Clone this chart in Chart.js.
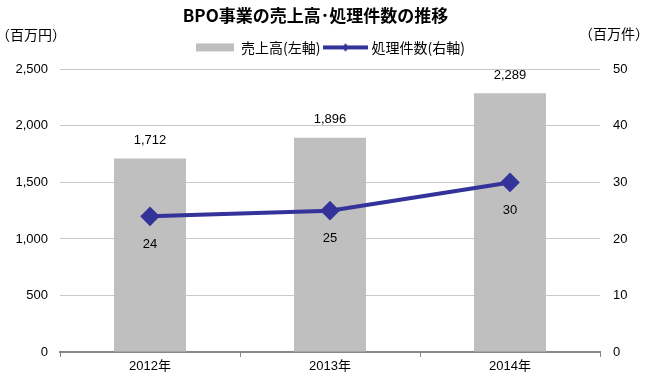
<!DOCTYPE html>
<html>
<head>
<meta charset="utf-8">
<script src="https://cdn.jsdelivr.net/npm/chart.js@4"></script>
<style>
  body { margin: 0; background: #fff; }
  #wrap { width: 645px; height: 380px; }
</style>
</head>
<body>
<div id="wrap"><canvas id="myChart" width="645" height="380"></canvas></div>
<script>
const years = ['2012年', '2013年', '2014年'];
const sales = [1712, 1896, 2289];
const counts = [24, 25, 30];
const leftTicks = [0, 500, 1000, 1500, 2000, 2500];
const rightTicks = [0, 10, 20, 30, 40, 50];

const numFont = "'Liberation Sans Narrow', 'Liberation Sans', Arial, 'Noto Sans CJK JP', sans-serif";
const jpFont = "'Noto Sans CJK JP', 'Liberation Sans', sans-serif";

// legend swatches
function barSwatch() {
    const c = document.createElement('canvas');
    c.width = 38; c.height = 10;
    const x = c.getContext('2d');
    x.fillStyle = '#bfbfbf';
    x.fillRect(0, 1, 38, 8);
    return c;
}
function lineSwatch() {
    const c = document.createElement('canvas');
    c.width = 45; c.height = 12;
    const x = c.getContext('2d');
    x.strokeStyle = '#333399';
    x.lineWidth = 4;
    x.beginPath(); x.moveTo(0, 6); x.lineTo(45, 6); x.stroke();
    x.fillStyle = '#333399';
    x.beginPath(); x.moveTo(22.5, 2); x.lineTo(26.5, 6); x.lineTo(22.5, 10); x.lineTo(18.5, 6); x.closePath(); x.fill();
    return c;
}

// shift a box's drawing sideways
function nudge(box, dx) {
    const draw = box.draw;
    box.draw = function () {
        this.ctx.save();
        this.ctx.translate(dx, 0);
        draw.apply(this, arguments);
        this.ctx.restore();
    };
}

// more room below the legend, and small horizontal nudges for title/legend
const boxTweaks = {
    id: 'boxTweaks',
    beforeLayout(chart) {
        const lg = chart.legend;
        if (lg && !lg._tweaked) {
            const fit = lg.fit;
            lg.fit = function () { fit.call(this); this.height += 5; };
            nudge(lg, 8);
            lg._tweaked = true;
        }
        const tb = chart.titleBlock;
        if (tb && !tb._tweaked) {
            nudge(tb, -7);
            tb._tweaked = true;
        }
    }
};

const valueLabels = {
    id: 'valueLabels',
    afterDatasetsDraw(chart) {
        const ctx = chart.ctx;
        ctx.save();
        ctx.fillStyle = '#000';
        ctx.font = '13px ' + numFont;
        ctx.textAlign = 'center';
        ctx.textBaseline = 'middle';
        chart.getDatasetMeta(0).data.forEach((el, i) => {
            ctx.fillText(sales[i].toLocaleString('en-US'), el.x, el.y - 18);
        });
        chart.getDatasetMeta(1).data.forEach((el, i) => {
            ctx.fillText(String(counts[i]), el.x, el.y + 28);
        });
        // unit labels
        ctx.font = '14px ' + jpFont;
        ctx.textAlign = 'left';
        ctx.fillText('（百万円）', -4, 35);
        ctx.textAlign = 'right';
        ctx.fillText('（百万件）', 649, 34);
        ctx.restore();
    }
};

new Chart(document.getElementById('myChart'), {
    data: {
        labels: years,
        datasets: [{
            type: 'bar',
            label: '売上高(左軸)',
            data: sales,
            backgroundColor: '#bfbfbf',
            yAxisID: 'y',
            categoryPercentage: 1,
            barPercentage: 0.4,
            order: 2
        }, {
            type: 'line',
            label: '処理件数(右軸)',
            data: counts,
            borderColor: '#333399',
            backgroundColor: '#333399',
            borderWidth: 4,
            pointStyle: 'rectRot',
            pointRadius: 7,
            pointHoverRadius: 7,
            yAxisID: 'y1',
            order: 1
        }]
    },
    plugins: [boxTweaks, valueLabels],
    options: {
        responsive: false,
        animation: false,
        layout: { padding: { top: 5, right: 0, left: 0, bottom: 0 } },
        plugins: {
            title: {
                display: true,
                text: 'BPO事業の売上高･処理件数の推移',
                color: '#000',
                font: { family: jpFont, size: 17, weight: 'bold' },
                padding: { top: 0, bottom: 9 }
            },
            legend: {
                labels: {
                    usePointStyle: true,
                    pointStyleWidth: 38,
                    color: '#000',
                    font: { family: jpFont, size: 14 },
                    padding: 6,
                    generateLabels(chart) {
                        return [
                            { text: '売上高(左軸)', pointStyle: barSwatch(), datasetIndex: 0, fontColor: '#000' },
                            { text: '処理件数(右軸)', pointStyle: lineSwatch(), datasetIndex: 1, fontColor: '#000' }
                        ];
                    }
                }
            },
            tooltip: { enabled: false }
        },
        scales: {
            x: {
                offset: true,
                grid: {
                    offset: true,
                    drawOnChartArea: false,
                    drawTicks: true,
                    tickLength: 5,
                    color: '#888'
                },
                border: { color: '#888', width: 2 },
                ticks: { color: '#000', font: { family: numFont, size: 13 }, padding: 2 },
                afterFit(s) { s.height = 28; }
            },
            y: {
                position: 'left',
                min: 0,
                max: 2500,
                afterBuildTicks(s) { s.ticks = leftTicks.map(v => ({ value: v })); },
                ticks: {
                    color: '#000',
                    font: { family: numFont, size: 13 },
                    padding: 12,
                    callback: v => v.toLocaleString('en-US')
                },
                grid: { color: '#c8c8c8', drawTicks: false },
                border: { display: false },
                afterFit(s) { s.width = 60; }
            },
            y1: {
                position: 'right',
                min: 0,
                max: 50,
                afterBuildTicks(s) { s.ticks = rightTicks.map(v => ({ value: v })); },
                ticks: {
                    color: '#000',
                    font: { family: numFont, size: 13 },
                    padding: 13
                },
                grid: { display: false, drawTicks: false },
                border: { display: false },
                afterFit(s) { s.width = 45; }
            }
        }
    }
});
</script>
</body>
</html>
